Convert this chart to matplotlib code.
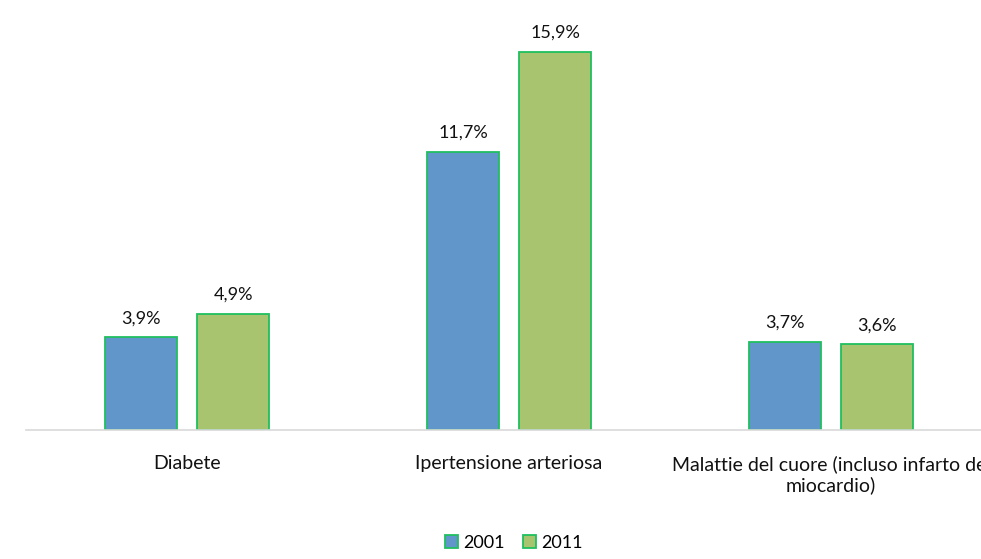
import matplotlib.pyplot as plt
import numpy as np

categories = ['Diabete', 'Ipertensione arteriosa',
              'Malattie del cuore (incluso infarto del\nmiocardio)']
years = ['2001', '2011']
values_2001 = [3.9, 11.7, 3.7]
values_2011 = [4.9, 15.9, 3.6]

plt.rcParams['font.family'] = ['Lato', 'DejaVu Sans']

fig = plt.figure(figsize=(9.81, 5.59), dpi=100)
ax = fig.add_axes([26 / 981, 129 / 559, 966 / 981, 430 / 559])

x = np.arange(len(categories))
width = 0.224
off = 0.143
edge = '#1fbf5f'

b1 = ax.bar(x - off, values_2001, width, color='#6096c9', edgecolor=edge,
            linewidth=1.3, label=years[0])
b2 = ax.bar(x + off, values_2011, width, color='#a9c46e', edgecolor=edge,
            linewidth=1.3, label=years[1])

for bars in (b1, b2):
    ax.bar_label(bars, labels=[f'{v:.1f}%'.replace('.', ',') for v in bars.datavalues],
                 padding=8, fontsize=13, color='#111111')

ax.set_xlim(-0.5, 2.5)
ax.set_ylim(0, 18.09)
ax.set_xticks(x)
ax.set_xticklabels(categories, fontsize=14, color='#111111', linespacing=1.25)
ax.tick_params(axis='x', length=0, pad=18)
ax.set_yticks([])
for s in ['top', 'right', 'left']:
    ax.spines[s].set_visible(False)
ax.spines['bottom'].set_color('#d9d9d9')
ax.spines['bottom'].set_linewidth(1.2)

fig.legend(handles=[b1, b2], labels=years, loc='center', bbox_to_anchor=(514 / 981, 1 - 543 / 559),
           ncol=2, frameon=False, fontsize=13, handlelength=0.7, handleheight=0.7,
           handletextpad=0.3, columnspacing=1.0)

fig.savefig('out.png', dpi=100)
